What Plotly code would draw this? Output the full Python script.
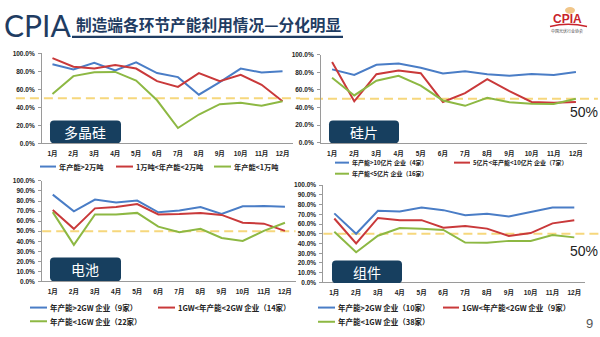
import plotly.graph_objects as go

# ---- data -------------------------------------------------------------
months = ["1月", "2月", "3月", "4月", "5月", "6月", "7月", "8月", "9月", "10月", "11月", "12月"]

# 多晶硅 utilisation (%)
poly_names = ["年产能>2万吨", "1万吨<年产能<2万吨", "年产能<1万吨"]
poly_gt2 = [87.7, 82.0, 89.5, 81.0, 90.0, 78.0, 73.5, 54.0, 68.0, 83.0, 78.6, 80.0]
poly_1to2 = [94.6, 85.0, 83.0, 87.0, 83.0, 69.0, 62.7, 78.0, 69.0, 76.0, 65.0, 46.7]
poly_lt1 = [54.7, 74.6, 79.0, 79.3, 69.6, 47.8, 17.0, 32.0, 43.5, 45.0, 41.7, 46.7]

# 硅片 utilisation (%)
wafer_names = ["年产能>10亿片 企业（4家）", "5亿片<年产能<10亿片 企业（7家）", "年产能<5亿片 企业（16家）"]
wafer_gt10 = [83.3, 77.0, 88.5, 90.0, 85.0, 78.5, 81.0, 77.8, 76.0, 78.0, 77.0, 80.4]
wafer_5to10 = [91.5, 47.0, 77.8, 82.0, 79.0, 46.3, 56.3, 72.2, 58.5, 46.3, 45.5, 46.3]
wafer_lt5 = [73.7, 53.7, 70.4, 76.0, 64.8, 48.0, 41.9, 51.0, 46.0, 44.4, 44.0, 50.0]

# 电池 utilisation (%)
cell_names = ["年产能>2GW 企业（9家）", "1GW<年产能<2GW 企业（14家）", "年产能<1GW 企业（22家）"]
cell_gt2 = [86.4, 69.8, 81.5, 78.6, 80.5, 68.8, 70.5, 74.0, 67.2, 74.7, 75.0, 74.4]
cell_1to2 = [71.0, 52.3, 72.7, 74.0, 77.0, 66.6, 67.0, 68.2, 66.2, 58.4, 57.5, 50.3]
cell_lt1 = [69.0, 36.4, 66.6, 66.6, 68.2, 54.5, 49.0, 52.3, 43.2, 40.3, 50.3, 58.4]

# 组件 utilisation (%)
module_names = ["年产能>2GW 企业（10家）", "1GW<年产能<2GW 企业（9家）", "年产能<1GW 企业（38家）"]
module_gt2 = [71.0, 50.0, 73.7, 73.0, 77.0, 74.3, 69.0, 70.7, 67.7, 72.7, 77.0, 77.0]
module_1to2 = [65.7, 40.0, 66.3, 64.0, 64.0, 56.3, 58.0, 55.3, 47.7, 50.7, 60.7, 64.0]
module_lt1 = [52.0, 31.0, 48.0, 56.0, 55.3, 54.0, 41.0, 40.7, 42.7, 42.7, 48.7, 46.3]

benchmark = 50  # reference utilisation line (%)
panel_titles = ["多晶硅", "硅片", "电池", "组件"]

# ---- styling ----------------------------------------------------------
W, H = 600, 337
BLUE, RED, GREEN = "#4A7DC6", "#C9393A", "#8DB843"
NAVY = "#1F3C62"
BOX = "#173F5F"
DASH = "#F6D77C"
CJK = "Noto Sans CJK SC"
TICKFONT = dict(family="Liberation Sans, " + CJK, size=6.5, color="#222222", weight="bold")


def px(x, y):
    """pixel position -> paper fraction"""
    return x / W, 1 - y / H


def rounded_box(x0, y0, x1, y1, r):
    def p(x, y):
        a, b = px(x, y)
        return f"{a:.5f},{b:.5f}"

    return (f"M{p(x0 + r, y0)} L{p(x1 - r, y0)} Q{p(x1, y0)} {p(x1, y0 + r)} "
            f"L{p(x1, y1 - r)} Q{p(x1, y1)} {p(x1 - r, y1)} L{p(x0 + r, y1)} "
            f"Q{p(x0, y1)} {p(x0, y1 - r)} L{p(x0, y0 + r)} Q{p(x0, y0)} {p(x0 + r, y0)} Z")


def label(text, x, y, font, xanchor="center", yanchor="middle"):
    a, b = px(x, y)
    return dict(text=text, x=a, y=b, xref="paper", yref="paper", showarrow=False,
                xanchor=xanchor, yanchor=yanchor, font=font)


# panel geometry in pixels: (x_left, x_right, y_bottom(0%), y_top(100%), dtick)
panels = [
    (42, 293, 142.3, 50.3, 20),
    (321, 587, 141.7, 51.7, 20),
    (42.2, 295.5, 283.3, 180.7, 10),
    (323.4, 585.2, 284.3, 185.0, 10),
]
series = [
    (poly_names, [poly_gt2, poly_1to2, poly_lt1]),
    (wafer_names, [wafer_gt10, wafer_5to10, wafer_lt5]),
    (cell_names, [cell_gt2, cell_1to2, cell_lt1]),
    (module_names, [module_gt2, module_1to2, module_lt1]),
]
colors = [BLUE, RED, GREEN]

fig = go.Figure()
layout = dict(width=W, height=H, margin=dict(l=0, r=0, t=0, b=0),
              paper_bgcolor="white", plot_bgcolor="white", showlegend=False)
shapes, annotations = [], []

# dashed reference line extent per panel (x-domain fractions)
dash_extent = [(-0.104, 1.028), (-0.079, 1.041), (0.0, 1.0), (0.0, 1.056)]

for i, ((xl, xr, yb, yt, dt), (names, vals)) in enumerate(zip(panels, series)):
    n = "" if i == 0 else str(i + 1)
    xa, ya = "x" + n, "y" + n
    layout["xaxis" + n] = dict(
        domain=[xl / W, xr / W], anchor=ya, type="category", range=[-0.5, 11.5],
        showline=True, linecolor="#9A9A9A", linewidth=1, ticks="", showgrid=False,
        tickfont=TICKFONT, ticklabelstandoff=4, fixedrange=True,
    )
    layout["yaxis" + n] = dict(
        domain=[1 - yb / H, 1 - yt / H], anchor=xa, range=[0, 100], dtick=dt,
        tickformat=".1f", ticksuffix="%", showline=True, linecolor="#9A9A9A",
        linewidth=1, ticks="outside", ticklen=3, tickcolor="#9A9A9A",
        showgrid=False, zeroline=False, tickfont=TICKFONT, ticklabelstandoff=2,
        fixedrange=True,
    )
    for name, v, c in zip(names, vals, colors):
        fig.add_trace(go.Scatter(x=months, y=v, name=name, mode="lines",
                                 line=dict(color=c, width=2), xaxis=xa, yaxis=ya,
                                 showlegend=False))
    d0, d1 = dash_extent[i]
    shapes.append(dict(type="line", xref=xa + " domain", yref=ya, x0=d0, x1=d1,
                       y0=benchmark, y1=benchmark,
                       line=dict(color=DASH, width=2, dash="9px,5px"), layer="below"))

# panel name boxes
boxes = [(50, 119, 121, 142), (329, 119, 399, 142), (50, 259, 121, 283), (332, 262, 402, 285)]
for (x0, y0, x1, y1), t in zip(boxes, panel_titles):
    shapes.append(dict(type="path", xref="paper", yref="paper", path=rounded_box(x0, y0, x1, y1, 4),
                       fillcolor=BOX, line=dict(width=0)))
    annotations.append(label(t, (x0 + x1) / 2, (y0 + y1) / 2,
                             dict(family=CJK, size=14, color="white")))

# hand-placed legends: (names, font size, [(line_x0, line_x1, text_x, y), ...])
legends = [
    (poly_names, 7.2, [(40, 56, 57, 166), (116, 133, 134, 166), (214, 231, 232, 166)]),
    (wafer_names, 6, [(335, 349, 350, 162), (454, 470, 471, 162), (335, 349, 350, 173.3)]),
    (cell_names, 7.5, [(30, 47, 48, 310), (158, 175, 176, 310), (30, 47, 48, 324)]),
    (module_names, 7.5, [(318, 335, 336, 310), (443, 459, 460, 310), (318, 335, 336, 324.5)]),
]
for names, fs, entries in legends:
    for name, c, (lx0, lx1, tx, y) in zip(names, colors, entries):
        a0, b = px(lx0, y)
        a1, _ = px(lx1, y)
        shapes.append(dict(type="line", xref="paper", yref="paper", x0=a0, x1=a1, y0=b, y1=b,
                           line=dict(color=c, width=2)))
        annotations.append(label(name, tx, y,
                                 dict(family=CJK, size=fs, color="#222222", weight="bold"),
                                 xanchor="left"))

# "50%" markers beside the right-hand panels
for (x, y) in [(584, 110.5), (584, 252.5)]:
    annotations.append(label("50%", x, y, dict(family="Liberation Sans", size=14, color="#222222")))

# page header
annotations.append(label("CPIA", 2, 21, dict(family="Lato", size=30, color=NAVY), xanchor="left"))
annotations.append(label("制造端各环节产能利用情况—分化明显", 74, 20.5,
                         dict(family=CJK, size=15.7, color=NAVY, weight="bold"), xanchor="left"))
a0, b = px(72, 33.5)
a1, _ = px(343, 33.5)
shapes.append(dict(type="line", xref="paper", yref="paper", x0=a0, x1=a1, y0=b, y1=b,
                   line=dict(color=NAVY, width=2.2)))

# association logo (top right)
sx0, sy0 = px(565, 10)
sx1, sy1 = px(575, 3)
shapes.append(dict(type="circle", xref="paper", yref="paper", x0=sx0, x1=sx1, y0=sy0, y1=sy1,
                   fillcolor="#E8A03A", line=dict(width=0), opacity=0.6))
annotations.append(label("CPIA", 567, 15.5,
                         dict(family="Liberation Sans", size=12, color="#C8232B", weight="bold")))
p0, p1, p2 = px(550, 23), px(568, 18.5), px(587, 23)
shapes.append(dict(type="path", xref="paper", yref="paper",
                   path=f"M{p0[0]},{p0[1]} Q{p1[0]},{p1[1]} {p2[0]},{p2[1]}",
                   line=dict(color="#C8232B", width=1.5)))
annotations.append(label("中国光伏行业协会", 567, 28, dict(family=CJK, size=4, color="#444444")))

# page number
annotations.append(label("9", 589, 326, dict(family="Liberation Sans", size=13, color="#555555")))

layout["shapes"] = shapes
layout["annotations"] = annotations
fig.update_layout(**layout)
fig.write_html("out.html")
